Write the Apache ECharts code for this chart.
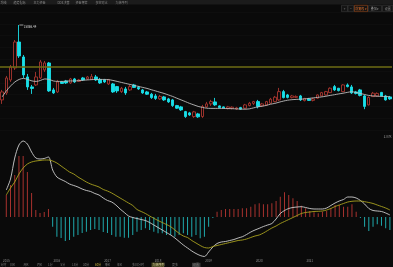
<!DOCTYPE html>
<html><head><meta charset="utf-8">
<script src="https://cdn.jsdelivr.net/npm/echarts@6/dist/echarts.min.js"></script>
<style>html,body{margin:0;padding:0;background:#0a0a0a;overflow:hidden}#c{width:393px;height:267px;}</style>
</head><body><div id="c"></div>
<script>
const categories = [
'2015-01','2015-02','2015-03','2015-04','2015-05','2015-06','2015-07','2015-08','2015-09','2015-10','2015-11','2015-12',
'2016-01','2016-02','2016-03','2016-04','2016-05','2016-06','2016-07','2016-08','2016-09','2016-10','2016-11','2016-12',
'2017-01','2017-02','2017-03','2017-04','2017-05','2017-06','2017-07','2017-08','2017-09','2017-10','2017-11','2017-12',
'2018-01','2018-02','2018-03','2018-04','2018-05','2018-06','2018-07','2018-08','2018-09','2018-10','2018-11','2018-12',
'2019-01','2019-02','2019-03','2019-04','2019-05','2019-06','2019-07','2019-08','2019-09','2019-10','2019-11','2019-12',
'2020-01','2020-02','2020-03','2020-04','2020-05','2020-06','2020-07','2020-08','2020-09','2020-10','2020-11','2020-12',
'2021-01','2021-02','2021-03','2021-04','2021-05','2021-06','2021-07','2021-08','2021-09','2021-10','2021-11','2021-12',
'2022-01','2022-02','2022-03','2022-04','2022-05','2022-06','2022-07','2022-08'];

const opens = [6816,7586,9016,10336,13196,11546,9346,8246,8466,9236,
10116,10886,7916,7696,8796,8906,8686,9126,8851,9236,
9126,9093,9346,9071,9016,8576,8576,8279,7729,8026,
7916,8466,8191,7916,7696,7443,7256,6926,7146,6926,
6816,6189,6046,5529,5386,4979,5276,4979,6046,6376,
6596,6156,6046,5881,5881,5826,5969,5903,6189,6431,
6629,6156,6266,6453,6629,6816,7729,7366,7069,7091,
7256,6739,6926,6761,7003,7256,7366,7619,8279,8103,
7729,8466,8246,7696,7916,7256,6266,7179,7256,7641,
7256,7146];
const closes = [7696,9236,10446,13196,11656,9566,8246,8081,9346,10996,
10886,7806,7586,8796,8631,8686,9126,8796,9016,9016,
9346,9379,9016,8686,8796,9016,7696,7806,8103,7586,
8279,8191,8026,7586,7443,7069,6981,7201,6816,6596,
6189,5903,5716,4979,5166,5496,4946,6079,6376,6629,
6266,5969,5936,6046,6013,5936,5793,6266,6453,6629,
6079,6376,6629,6893,7113,7729,7069,7091,7256,7201,
6816,6981,6761,6926,7366,7619,7729,8103,7916,7839,
8466,8279,7586,7531,7311,6101,7091,7553,7531,7256,
6816,6926];
const lows = [6376,7366,8796,10116,11436,9236,7916,7476,8356,9126,
9896,7696,7476,7586,8576,8576,8576,8686,8796,8906,
9016,9016,8906,8576,8686,8466,7586,7586,7586,7366,
7806,8136,7916,7476,7366,6926,6816,6816,6706,6486,
6046,5826,5606,4836,5056,4836,4836,4836,5936,6156,
6156,5881,5881,5771,5771,5716,5716,5826,6101,6266,
5881,6046,6156,6376,6541,6706,6981,6981,6981,7036,
6706,6651,6706,6651,6926,7201,7311,7586,7806,7751,
7696,8191,7476,7421,7201,5793,6211,7146,7201,7201,
6739,6816];
const highs = [7916,9456,10666,13416,15066.44,11766,9676,8466,9896,11216,
11106,10996,8136,9016,8906,9016,9236,9236,9126,9346,
9456,9676,9566,9236,9126,9126,8686,8356,8246,8246,
8466,8576,8356,8026,7806,7586,7476,7366,7256,7036,
6926,6266,6156,5606,5496,5606,5386,6266,6596,6816,
7036,6211,6101,6156,6101,6046,6046,6376,6596,6706,
6816,6486,6706,7036,7256,8136,7916,7476,7366,7311,
7366,7036,7036,7036,7421,7696,7806,8191,8466,8136,
8543,8631,8466,7806,8026,7366,7201,7696,7641,7696,
7366,7256];
const ma = [7146,7806,8356,8796,9071,9181,9071,8906,8851,8961,
9126,9071,8906,8851,8851,8873,8906,8906,8939,8983,
9016,9049,9071,9071,9071,9049,8961,8851,8741,8631,
8521,8411,8301,8191,8081,7938,7806,7663,7531,7366,
7201,7003,6816,6629,6431,6266,6101,5991,5903,5881,
5881,5881,5870,5859,5848,5826,5804,5793,5826,5936,
6046,6123,6211,6343,6431,6563,6684,6783,6838,6871,
6893,6926,6981,7036,7091,7146,7223,7311,7388,7476,
7553,7641,7718,7641,7531,7421,7311,7256,7223,7201,
7179,7179];
const alertLevel = 10446;
const peakIndex = 4;

const dif = [945,1330,2065,2520,2660,2555,2275,2065,2030,2048,
2100,1645,1400,1313,1243,1155,1103,1050,980,928,
893,823,770,665,578,525,420,280,158,35,
-18,-53,-88,-123,-193,-280,-368,-455,-543,-630,
-735,-858,-980,-1085,-1190,-1278,-1348,-1383,-1225,-1050,
-928,-875,-858,-823,-788,-735,-690,-613,-525,-455,
-396,-333,-280,-228,-70,123,228,298,333,350,
361,333,298,280,280,280,315,403,490,560,
613,700,700,665,578,455,298,228,210,193,
140,70];
const dea = [770,1015,1225,1505,1715,1855,1925,1960,1978,1995,
1995,1960,1890,1785,1680,1575,1505,1400,1313,1225,
1155,1103,1050,963,910,840,753,665,578,490,
403,263,193,123,35,-46,-123,-193,-263,-340,
-455,-571,-665,-718,-823,-910,-998,-1068,-1085,-1033,
-998,-963,-928,-893,-858,-823,-805,-770,-718,-665,
-630,-560,-473,-385,-315,-228,-158,-88,-18,53,
123,158,175,193,200,210,245,298,368,420,
473,525,550,560,560,536,508,473,420,368,
315,245];
const macdHist = [770,1120,1470,2135,2135,1575,840,245,140,175,
280,-340,-690,-735,-840,-805,-690,-630,-560,-515,
-455,-420,-455,-525,-560,-630,-690,-690,-725,-725,
-630,-515,-455,-396,-455,-515,-571,-571,-630,-630,
-690,-630,-571,-630,-690,-630,-746,-690,-340,-35,
186,245,280,280,280,280,305,305,361,445,
480,445,445,480,560,711,865,770,655,560,
396,305,210,165,130,186,210,305,420,420,
361,361,445,186,-35,-340,-490,-340,-256,-305,
-396,-455];
const macdTopLabel = '2.87K';

// TD sequential counts
const tdIndex = [22,23,24,25,26,27,28,29,30, 33,34,35,36,37,38,39,40,41, 58,59,60,61,62,63,64,65,66];
const tdPrice = [8356,8026,8026,8136,7256,7146,7146,6981,7421, 6926,6926,6596,6189,6453,6376,6156,5716,5463, 6926,7036,7256,7256,7036,7366,7586,8356,8356];
const tdDigit = [1,2,3,4,5,6,7,8,9, 1,2,3,4,5,6,7,8,9, 1,2,3,4,5,6,7,8,9];
const tdSide  = ['b','b','b','b','b','b','b','b','b', 'b','b','b','b','b','b','b','b','b', 'a','a','a','a','a','a','a','a','a'];

const topTabs = ['均线','趋势指标','主力资金','DDE决策','资金博弈','多空对比','九转序列'];
const bottomTabs = ['分时','日K','周K','月K','1分','5分','15分','30分','60分','季K','年K','多日分时','九转序列','更多','设置'];

const FONT = 'Noto Sans CJK SC, Liberation Sans, sans-serif';
const chart = echarts.init(document.getElementById('c'), null, {renderer:'canvas'});

const candleData = categories.map((c,i)=>[opens[i],closes[i],lows[i],highs[i]]);
const tdData = tdIndex.map((idx,k)=>({
  value:[idx, tdPrice[k]],
  label:{formatter:String(tdDigit[k]),
    color: tdDigit[k]===9 ? (tdSide[k]==='a' ? '#3fa33f' : '#c8382c') : '#c08a2c'}
}));

const topTabX = [0.5,13.5,33.5,57.5,75.5,95.5,115.5];
const bottomTabX = [0.5,10,23.5,37,48,60.5,72,83,95,105,117,132,152.5,172,193];

const graphics = [
  {type:'rect', shape:{x:0,y:0,width:393,height:4.6}, style:{fill:'#1b1b1b'}, silent:true}
];
topTabs.forEach((t,k)=>graphics.push({type:'text', x:topTabX[k], y:2.4,
  style:{text:t, fill:'#8a8a8a', fontSize:3, fontFamily:FONT, verticalAlign:'middle', textVerticalAlign:'middle'}}));
// right toolbar buttons
const btns = [
  {x:341.5,w:6,t:'+',c:'#9a9a9a',b:'#3a3a3a'},
  {x:348,w:5.5,t:'−',c:'#9a9a9a',b:'#3a3a3a'},
  {x:354.5,w:13,t:'前复权 ▾',c:'#e0702c',b:'#a34d1c'},
  {x:368.5,w:13,t:'叠加 ▾',c:'#9a9a9a',b:'#3a3a3a'},
  {x:382.5,w:10.5,t:'设置',c:'#9a9a9a',b:'#3a3a3a'}
];
btns.forEach(bn=>{
  graphics.push({type:'rect', shape:{x:bn.x,y:5.3,width:bn.w,height:6.4}, style:{fill:'#141414', stroke:bn.b, lineWidth:0.6}, silent:true});
  graphics.push({type:'text', x:bn.x+bn.w/2, y:8.5, style:{text:bn.t, fill:bn.c, fontSize:3, fontFamily:FONT, align:'center', verticalAlign:'middle', textAlign:'center', textVerticalAlign:'middle'}});
});
// MACD top-right value
graphics.push({type:'text', x:391.5, y:136.8, style:{text:macdTopLabel, fill:'#9a9a9a', fontSize:3, fontFamily:FONT, align:'right', verticalAlign:'middle', textAlign:'right', textVerticalAlign:'middle'}});
// bottom tabs
graphics.push({type:'rect', shape:{x:151.5,y:262.6,width:12.5,height:4.4}, style:{fill:'#4d4b24'}, silent:true});
graphics.push({type:'rect', shape:{x:192,y:262.8,width:8.5,height:4.2}, style:{fill:'#3a3a3a'}, silent:true});
bottomTabs.forEach((t,k)=>graphics.push({type:'text', x:bottomTabX[k], y:265,
  style:{text:t, fill: k===8 ? '#c9b23a' : (k===12 ? '#d8d2a0' : '#7d7d7d'), fontSize:3, fontFamily:FONT, verticalAlign:'middle', textVerticalAlign:'middle'}}));

const option = {
  backgroundColor:'#0a0a0a',
  animation:false,
  grid:[
    {left:-2.65, right:1, top:12, height:118},
    {left:-2.65, right:1, top:135, height:124}
  ],
  xAxis:[
    {type:'category', data:categories, gridIndex:0, boundaryGap:true,
     axisLine:{show:false}, axisTick:{show:false}, axisLabel:{show:false}, splitLine:{show:false}},
    {type:'category', data:categories, gridIndex:1, boundaryGap:true,
     axisLine:{show:false}, axisTick:{show:false}, splitLine:{show:false},
     axisLabel:{show:true, interval:(i,v)=>v.slice(5)==='01', formatter:v=>v.slice(0,4),
       color:'#8c8c8c', fontSize:3, fontFamily:FONT, margin:0.8, showMinLabel:true, showMaxLabel:false}}
  ],
  yAxis:[
    {type:'value', gridIndex:0, min:3500, max:16500, interval:1300, show:true,
     axisLine:{show:false}, axisTick:{show:false}, axisLabel:{show:false},
     splitLine:{show:true, lineStyle:{color:'#121212', width:0.5}}},
    {type:'value', gridIndex:1, min:-1470, max:2870, show:true,
     axisLine:{show:false}, axisTick:{show:false}, axisLabel:{show:false},
     splitLine:{show:false}}
  ],
  series:[
    {type:'candlestick', name:'K', xAxisIndex:0, yAxisIndex:0, data:candleData, barWidth:3,
     itemStyle:{color:'#0a0a0a', color0:'#18dfe8', borderColor:'#a8362f', borderColor0:'#18dfe8', borderWidth:0.9},
     markLine:{silent:true, symbol:['none','none'], label:{show:false},
       lineStyle:{color:'#6e6c14', width:1.6, type:'solid'}, data:[{yAxis:alertLevel}]},
     markPoint:{silent:true, symbol:'rect', symbolSize:[4,0.7], symbolOffset:[2.2,0],
       itemStyle:{color:'#cfcfcf'},
       label:{show:true, position:'right', distance:0.5, offset:[0,1.6], color:'#dcdcdc', fontSize:3, fontFamily:FONT,
         formatter:p=>Number(p.value).toFixed(2)},
       data:[{coord:[categories[peakIndex], highs[peakIndex]], value:highs[peakIndex]}]}
    },
    {type:'line', name:'MA', xAxisIndex:0, yAxisIndex:0, data:ma, symbol:'none', smooth:0.3,
     lineStyle:{color:'#bdbdbd', width:0.9}},
    {type:'scatter', name:'TD', xAxisIndex:0, yAxisIndex:0, data:tdData, symbolSize:1,
     itemStyle:{opacity:0}, label:{show:true, position:'inside', fontSize:3.2, fontFamily:FONT, fontWeight:'bold'}},
    {type:'bar', name:'MACD', xAxisIndex:1, yAxisIndex:1, data:macdHist, barWidth:1,
     itemStyle:{color:p=>p.value>=0?'#a8322e':'#1fa9ac'}},
    {type:'line', name:'DIF', xAxisIndex:1, yAxisIndex:1, data:dif, symbol:'none', smooth:0.3,
     lineStyle:{color:'#cfcfcf', width:0.9}},
    {type:'line', name:'DEA', xAxisIndex:1, yAxisIndex:1, data:dea, symbol:'none', smooth:0.3,
     lineStyle:{color:'#a9a21e', width:0.9}}
  ],
  graphic:{elements:graphics}
};
chart.setOption(option);
</script></body></html>
